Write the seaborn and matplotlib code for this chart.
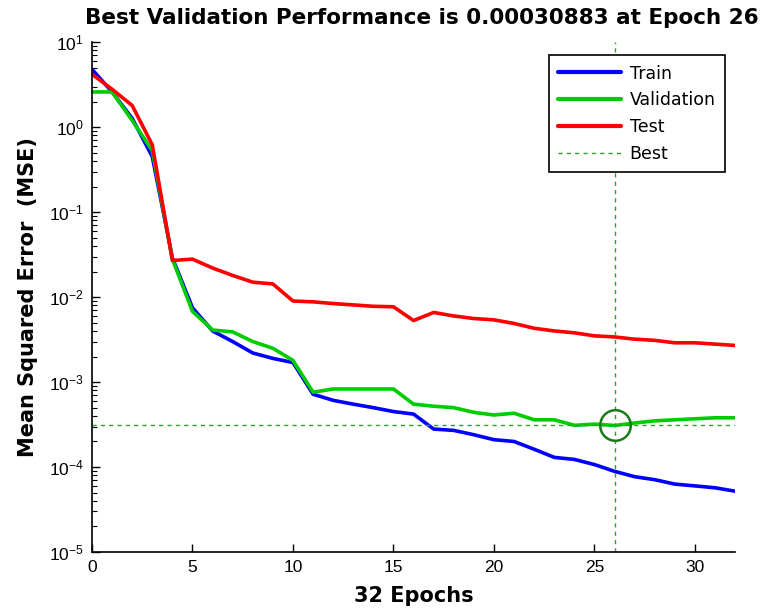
import numpy as np
import pandas as pd
import matplotlib
matplotlib.use("Agg")
import matplotlib.pyplot as plt
import seaborn as sns
from matplotlib.lines import Line2D
from matplotlib.ticker import FixedLocator, NullFormatter, LogFormatterSciNotation

epochs = list(range(33))
train = [4.8, 2.6, 1.27, 0.45, 0.029, 0.0075, 0.0040, 0.0030, 0.0022, 0.0019, 0.0017,
         0.00072, 0.00061, 0.00055, 0.00050, 0.00045, 0.00042, 0.00028, 0.00027, 0.00024,
         0.00021, 0.00020, 0.000162, 0.00013, 0.000123, 0.000107, 0.000089, 0.000077,
         0.000071, 0.000063, 0.000060, 0.000057, 0.000052]
validation = [2.6, 2.6, 1.2, 0.53, 0.028, 0.0068, 0.0041, 0.0039, 0.0030, 0.0025, 0.0018,
              0.00076, 0.00083, 0.00083, 0.00083, 0.00083, 0.00055, 0.00052, 0.00050, 0.00044,
              0.00041, 0.00043, 0.00036, 0.00036, 0.00031, 0.00032, 0.00030883, 0.00033,
              0.00035, 0.00036, 0.00037, 0.00038, 0.00038]
test = [4.2, 2.8, 1.8, 0.62, 0.027, 0.028, 0.022, 0.018, 0.015, 0.0143, 0.0090,
        0.0088, 0.0084, 0.0081, 0.0078, 0.0077, 0.0053, 0.0066, 0.0060, 0.0056,
        0.0054, 0.0049, 0.0043, 0.0040, 0.0038, 0.0035, 0.0034, 0.0032,
        0.0031, 0.0029, 0.0029, 0.0028, 0.0027]
best_epoch = 26
best_value = 0.00030883
x_ticks = [0, 5, 10, 15, 20, 25, 30]
y_ticks = [1e-5, 1e-4, 1e-3, 1e-2, 1e-1, 1e0, 1e1]

series_names = ["Train", "Validation", "Test"]
colors = {"Train": "#0000ff", "Validation": "#00cc00", "Test": "#ff0000"}

df = pd.concat([
    pd.DataFrame({"Epoch": epochs, "MSE": train, "Set": "Train"}),
    pd.DataFrame({"Epoch": epochs, "MSE": validation, "Set": "Validation"}),
    pd.DataFrame({"Epoch": epochs, "MSE": test, "Set": "Test"}),
])

sns.set_theme(style="white")
plt.rcParams["font.family"] = ["Liberation Sans", "DejaVu Sans"]
plt.rcParams["mathtext.fontset"] = "custom"
plt.rcParams["mathtext.rm"] = "Liberation Sans"
plt.rcParams["mathtext.it"] = "Liberation Sans"
for k in ["text.color", "axes.labelcolor", "xtick.color", "ytick.color"]:
    plt.rcParams[k] = "black"

fig = plt.figure(figsize=(7.69, 6.12), dpi=100)
ax = fig.add_axes([0.1196, 0.098, 0.8364, 0.833])

sns.lineplot(data=df, x="Epoch", y="MSE", hue="Set", hue_order=series_names,
             palette=colors, linewidth=2.6, ax=ax, legend=False)

ax.axvline(best_epoch, color="#2ca02c", linestyle=(0, (3, 3)), linewidth=1.0)
ax.axhline(best_value, color="#2ca02c", linestyle=(0, (3, 3)), linewidth=1.0)
ax.plot([best_epoch], [best_value], marker="o", markersize=22, markerfacecolor="none",
        markeredgecolor="#1b7a1b", markeredgewidth=1.8, linestyle="none")

ax.set_yscale("log")
ax.set_xlim(0, 32)
ax.set_ylim(1e-5, 1e1)
ax.xaxis.set_major_locator(FixedLocator(x_ticks))
ax.yaxis.set_major_locator(FixedLocator(y_ticks))
ax.yaxis.set_major_formatter(LogFormatterSciNotation())
minor = [m * d for d in y_ticks[:-1] for m in range(2, 10)]
ax.yaxis.set_minor_locator(FixedLocator(minor))
ax.yaxis.set_minor_formatter(NullFormatter())
ax.tick_params(axis="both", which="major", direction="in", length=6, width=1,
               labelsize=12.5, colors="black", left=True, bottom=True)
ax.tick_params(axis="y", which="minor", direction="in", length=3.5, width=0.8, left=True)
ax.tick_params(axis="x", pad=6)
ax.tick_params(axis="y", pad=6)

for s in ["top", "right"]:
    ax.spines[s].set_visible(False)
for s in ["left", "bottom"]:
    ax.spines[s].set_color("black")
    ax.spines[s].set_linewidth(1.2)

bold_font = {"family": "DejaVu Sans", "weight": "bold", "size": 15}
fig.text(422 / 769, 1 - 18 / 612, "Best Validation Performance is 0.00030883 at Epoch 26",
         family="DejaVu Sans", weight="bold", size=15.5, ha="center", va="center")
ax.set_xlabel("32 Epochs", fontdict=bold_font, labelpad=8)
ax.set_ylabel("Mean Squared Error  (MSE)", fontdict=bold_font, labelpad=8)

handles = [Line2D([], [], color=colors[n], linewidth=3) for n in series_names]
handles.append(Line2D([], [], color="#2ca02c", linestyle=(0, (3, 3)), linewidth=1.0))
leg = ax.legend(handles, series_names + ["Best"], loc="upper right",
                bbox_to_anchor=(0.998, 0.992),
                prop={"family": "DejaVu Sans", "size": 12.5},
                frameon=True, fancybox=False,
                framealpha=1, edgecolor="black", handlelength=3.6, labelspacing=0.5,
                borderpad=0.55, handletextpad=0.5)
leg.get_frame().set_linewidth(1.2)

fig.savefig("out.png", dpi=100)
